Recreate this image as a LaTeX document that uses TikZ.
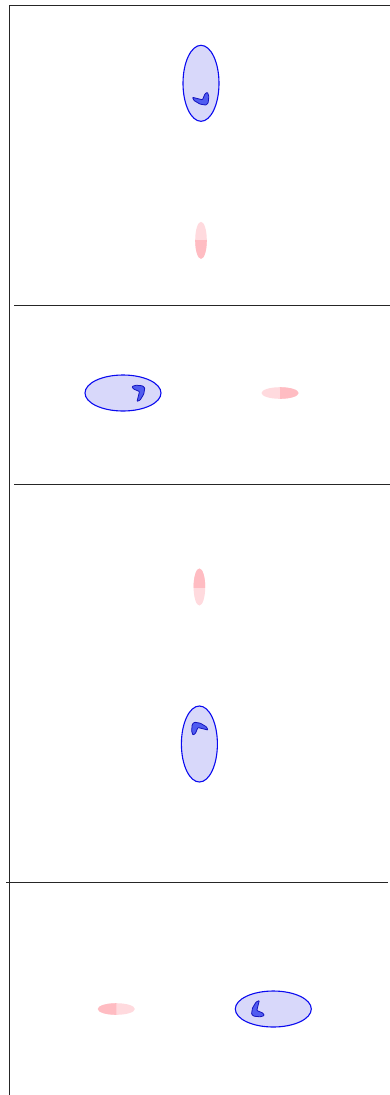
\documentclass[tikz,border=0pt]{standalone}
\usetikzlibrary{calc}
\definecolor{lav}{RGB}{216,216,250}
\definecolor{ringblue}{RGB}{10,10,240}
\definecolor{boomfill}{RGB}{80,92,240}
\definecolor{boomline}{RGB}{20,20,190}
\definecolor{pinklt}{RGB}{255,218,222}
\definecolor{pinkdk}{RGB}{255,188,194}
\tikzset{
  frameline/.style={draw=black!85, line width=1pt},
  bigell/.style={fill=lav, draw=ringblue, line width=1.1pt},
  boom/.style={fill=boomfill, draw=boomline, line width=0.8pt, rounded corners=0.7pt},
}
\begin{document}
\begin{tikzpicture}[x=1pt,y=-1pt]
\useasboundingbox (0,0) rectangle (390,1095);
\fill[white] (0,0) rectangle (390,1095);
% frame lines
\draw[frameline] (9,5) -- (390,5);
\draw[frameline] (9,5) -- (9,1095);
\draw[frameline] (14,305.5) -- (390,305.5);
\draw[frameline] (14,484.7) -- (390,484.7);
\draw[frameline] (6,882.7) -- (388,882.7);
% panels
\foreach \cx/\cy/\ang in {201/83.3/0, 123/393/90, 199.4/744/180, 273.3/1009/270}{
  \begin{scope}[shift={(\cx,\cy)}, rotate=\ang]
    \draw[bigell] (0,0) ellipse [x radius=18pt, y radius=38pt];
    \draw[boom] (-8.5,14) -- (1.5,16.5) -- (4,10.5) -- (6.5,9) -- (7.8,13) -- (7.2,19.5) -- (5,21.8) -- (-1,20.8) -- (-7,17.2) -- cycle;
    \fill[pinklt] (0,157) ellipse [x radius=5.8pt, y radius=18.5pt];
    \begin{scope}
      \clip (-10,157) rectangle (10,180);
      \fill[pinkdk] (0,157) ellipse [x radius=5.8pt, y radius=18.5pt];
    \end{scope}
  \end{scope}
}
\end{tikzpicture}
\end{document}
